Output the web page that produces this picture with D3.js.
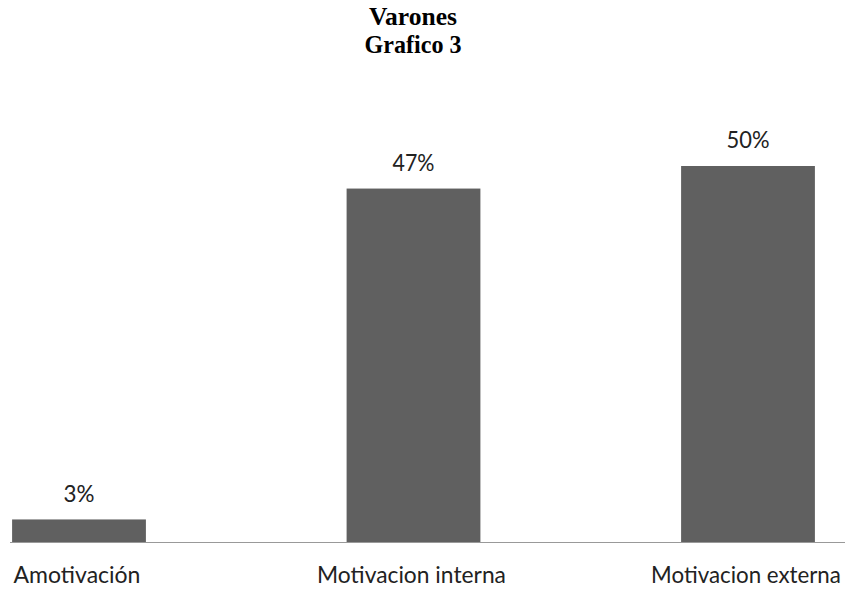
<!DOCTYPE html>
<html>
<head>
<meta charset="utf-8">
<script src="https://cdn.jsdelivr.net/npm/d3@7"></script>
<style>
  html, body { margin: 0; padding: 0; background: #fff; }
  svg { display: block; }
</style>
</head>
<body>
<svg id="chart" width="845" height="590"></svg>
<script>
const titleLines = ["Varones", "Grafico 3"];
const categories = ["Amotivación", "Motivacion interna", "Motivacion externa"];
const values = [3, 47, 50];
const valueLabels = ["3%", "47%", "50%"];
const yDomain = [0, 60];

const svg = d3.select("#chart");
const W = 845, H = 590;
const baseY = 542;

const x = d3.scaleBand()
  .domain(categories)
  .range([-88.25, 915.25])
  .paddingInner(0.6)
  .paddingOuter(0.3);

const y = d3.scaleLinear()
  .domain(yDomain)
  .range([baseY, baseY - 451.2]);

// fit a centred text horizontally to a target width by scaling
function fitWidth(sel, widths) {
  sel.each(function(d, i) {
    const w = this.getComputedTextLength();
    const sx = w > 0 ? widths[i] / w : 1;
    const t = d3.select(this);
    const cx = +t.attr("x") || 0;
    t.attr("transform", `translate(${cx},0) scale(${sx},1)`).attr("x", 0);
  });
}

// Title
svg.append("g")
  .selectAll("text")
  .data(titleLines)
  .join("text")
  .attr("x", 413)
  .attr("y", (d, i) => 25 + i * 28)
  .attr("text-anchor", "middle")
  .attr("font-family", "'Liberation Serif', 'Times New Roman', serif")
  .attr("font-weight", "bold")
  .attr("font-size", 26)
  .attr("fill", "#000")
  .text(d => d)
  .call(fitWidth, [88, 97]);

// Bars
svg.append("g")
  .selectAll("rect")
  .data(values)
  .join("rect")
  .attr("x", (d, i) => x(categories[i]))
  .attr("y", d => y(d))
  .attr("width", x.bandwidth())
  .attr("height", d => baseY - y(d))
  .attr("fill", "#606060");

// Value labels
svg.append("g")
  .selectAll("text")
  .data(values)
  .join("text")
  .attr("x", (d, i) => x(categories[i]) + x.bandwidth() / 2)
  .attr("y", d => y(d) - 17.5)
  .attr("text-anchor", "middle")
  .attr("font-family", "Lato, 'Open Sans', sans-serif")
  .attr("font-size", 22.5)
  .attr("fill", "#222")
  .text((d, i) => valueLabels[i])
  .call(fitWidth, [31, 42, 43]);

// X axis (labels only) via d3 axis
const axisG = svg.append("g")
  .attr("transform", `translate(0,${baseY})`)
  .call(d3.axisBottom(x).tickSize(0));
axisG.select(".domain").remove();
axisG.selectAll(".tick text")
  .attr("y", 41)
  .attr("dy", 0)
  .attr("x", -2)
  .attr("font-family", "Lato, 'Open Sans', sans-serif")
  .attr("font-size", 24)
  .attr("fill", "#222")
  .call(fitWidth, [127, 189, 190]);

// Baseline
svg.append("line")
  .attr("x1", 10)
  .attr("x2", W)
  .attr("y1", baseY + 0.5)
  .attr("y2", baseY + 0.5)
  .attr("stroke", "#999")
  .attr("stroke-width", 1);
</script>
</body>
</html>
